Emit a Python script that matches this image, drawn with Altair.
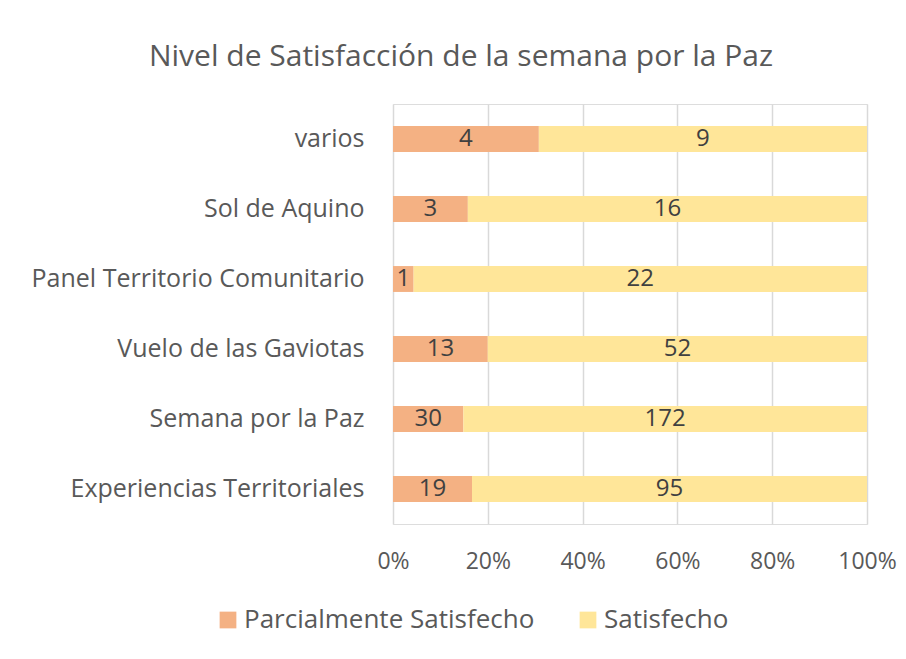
import altair as alt
import pandas as pd

categories = ["varios", "Sol de Aquino", "Panel Territorio Comunitario",
              "Vuelo de las Gaviotas", "Semana por la Paz", "Experiencias Territoriales"]
parcial = [4, 3, 1, 13, 30, 19]
satisfecho = [9, 16, 22, 52, 172, 95]
series = ["Parcialmente Satisfecho", "Satisfecho"]
colors = ["#F4B183", "#FFE699"]

rows = []
for c, p, s in zip(categories, parcial, satisfecho):
    rows.append({"cat": c, "serie": series[0], "val": p, "ord": 0})
    rows.append({"cat": c, "serie": series[1], "val": s, "ord": 1})
df = pd.DataFrame(rows)

FONT = "Open Sans"
FS = 25

base = alt.Chart(df).transform_stack(
    stack="val", groupby=["cat"], as_=["x0", "x1"], offset="normalize",
    sort=[alt.SortField("ord", order="ascending")]
).transform_calculate(mid="(datum.x0 + datum.x1) / 2")

y_enc = alt.Y("cat:N", sort=categories, title=None,
              scale=alt.Scale(paddingInner=0.63, paddingOuter=0.315),
              axis=alt.Axis(labelFontSize=FS, labelColor="#595959", labelFont=FONT,
                            labelPadding=29, domain=False, ticks=False, labelLimit=400))

bars = base.mark_bar().encode(
    x=alt.X("x0:Q", scale=alt.Scale(domain=[0, 1]), title=None,
            axis=alt.Axis(format="%", values=[0, 0.2, 0.4, 0.6, 0.8, 1.0],
                          labelFontSize=23, labelColor="#595959", labelFont=FONT,
                          labelPadding=26, labelFlush=False, labelAlign="center",
                          domain=False, ticks=False,
                          gridColor="#D9D9D9", gridWidth=1.5)),
    x2="x1:Q",
    y=y_enc,
    color=alt.Color("serie:N", scale=alt.Scale(domain=series, range=colors),
                    legend=alt.Legend(title=None, orient="none", direction="horizontal",
                                      legendX=-178, legendY=503,
                                      symbolType="square", symbolSize=280,
                                      symbolStrokeWidth=0,
                                      labelFontSize=26, labelColor="#595959",
                                      labelFont=FONT, columnPadding=40,
                                      labelOffset=3, labelLimit=400)),
)

texts = base.mark_text(fontSize=24, color="#404040", font=FONT).encode(
    x="mid:Q",
    y=alt.Y("cat:N", sort=categories),
    text="val:Q",
)

chart = (bars + texts).properties(
    width=474, height=420,
    title=alt.TitleParams("Nivel de Satisfacción de la semana por la Paz",
                          fontSize=30, font=FONT, fontWeight="normal",
                          color="#595959", anchor="middle", dx=-169, offset=32),
    autosize=alt.AutoSizeParams(type="none"),
    padding={"left": 385, "top": 96, "right": 31, "bottom": 120},
).configure_view(stroke=None).configure(background="white")

chart.save("out.html", embed_options={"renderer": "svg", "actions": False})
